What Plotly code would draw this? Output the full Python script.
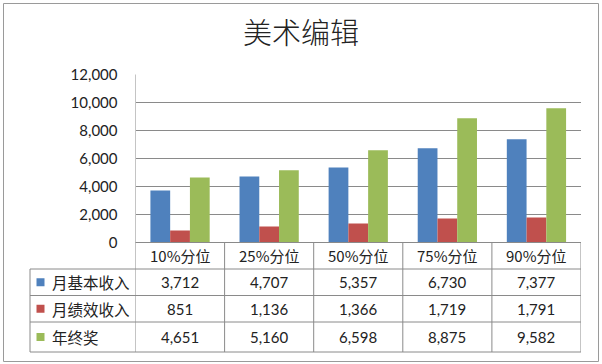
import plotly.graph_objects as go

categories = ["10%分位", "25%分位", "50%分位", "75%分位", "90%分位"]
series_names = ["月基本收入", "月绩效收入", "年终奖"]
base_income = [3712, 4707, 5357, 6730, 7377]
perf_income = [851, 1136, 1366, 1719, 1791]
year_bonus = [4651, 5160, 6598, 8875, 9582]
colors = ["#4F81BD", "#C0504D", "#9BBB59"]
y_ticks = [0, 2000, 4000, 6000, 8000, 10000, 12000]

W, H = 602, 364
series_values = [base_income, perf_income, year_bonus]

def py(px):
    return 1 - px / H

def pxx(px):
    return px / W

FONT = "Lato, 'Noto Sans CJK SC', sans-serif"
CJK = "'Noto Sans CJK SC', sans-serif"
LINE = "#8a8a8a"
TXT = "#222222"

fig = go.Figure()
xs = list(range(len(categories)))
for name, vals, c in zip(series_names, series_values, colors):
    fig.add_trace(go.Bar(x=xs, y=vals, name=name, marker=dict(color=c, line=dict(width=0)),
                         hoverinfo="y+name"))

plot_left, plot_right = 135.5, 581
plot_top, plot_bottom = 74.5, 242.5
row_edges = [242.5, 269, 295.5, 322, 352]
table_left = 30

shapes = []
for i, ry in enumerate(row_edges):
    x0 = plot_left if i == 0 else table_left
    shapes.append(dict(type="line", xref="paper", yref="paper", x0=pxx(x0), x1=pxx(plot_right),
                       y0=py(ry), y1=py(ry), line=dict(color=LINE, width=1)))
for i in range(len(categories) + 1):
    top = plot_top if i == 0 else row_edges[0]
    shapes.append(dict(type="line", xref="x", yref="paper", x0=i - 0.5, x1=i - 0.5,
                       y0=py(top), y1=py(row_edges[-1]), line=dict(color=LINE, width=1)))
shapes.append(dict(type="line", xref="paper", yref="paper", x0=pxx(table_left), x1=pxx(table_left),
                   y0=py(row_edges[1]), y1=py(row_edges[-1]), line=dict(color=LINE, width=1)))
shapes.append(dict(type="rect", xref="paper", yref="paper", x0=pxx(3.5), x1=pxx(598.5),
                   y0=py(361.5), y1=py(3.5), line=dict(color="#9a9a9a", width=1)))

annotations = []
for i, cat in enumerate(categories):
    annotations.append(dict(x=i, xref="x", y=py((row_edges[0] + row_edges[1]) / 2), yref="paper",
                            text=cat, showarrow=False, font=dict(family=CJK, size=15, color=TXT),
                            xanchor="center", yanchor="middle"))
for r, (name, vals, c) in enumerate(zip(series_names, series_values, colors)):
    yc = (row_edges[r + 1] + row_edges[r + 2]) / 2
    shapes.append(dict(type="rect", xref="paper", yref="paper", x0=pxx(36.5), x1=pxx(44.5),
                       y0=py(yc + 4), y1=py(yc - 4), fillcolor=c, line=dict(width=0)))
    annotations.append(dict(x=pxx(50), xref="paper", y=py(yc), yref="paper", text=name,
                            showarrow=False, font=dict(family=CJK, size=15.5, color=TXT),
                            xanchor="left", yanchor="middle"))
    for i, v in enumerate(vals):
        annotations.append(dict(x=i, xref="x", y=py(yc), yref="paper", text=f"{v:,}",
                                showarrow=False, font=dict(family=FONT, size=15, color=TXT),
                                xanchor="center", yanchor="middle"))

fig.update_layout(
    width=W, height=H,
    autosize=False,
    margin=dict(l=0, r=0, t=0, b=0, pad=0, autoexpand=False),
    paper_bgcolor="white", plot_bgcolor="white",
    barmode="group", bargap=0.335, bargroupgap=0,
    showlegend=False,
    title=dict(text="美术编辑", x=301 / W, xanchor="center", y=py(34), yanchor="middle",
               font=dict(family=CJK, size=29, color=TXT, weight=300)),
    xaxis=dict(domain=[pxx(plot_left), pxx(plot_right)], range=[-0.5, len(categories) - 0.5],
               showticklabels=False, showgrid=False, zeroline=False, showline=False,
               fixedrange=True, automargin=False),
    yaxis=dict(domain=[py(plot_bottom), py(plot_top)], range=[0, 12000], tickvals=y_ticks,
               tickformat=",", showgrid=True, gridcolor=LINE, gridwidth=1, zeroline=False,
               showline=False, ticks="", ticklabelstandoff=17, automargin=False,
               tickfont=dict(family=FONT, size=15, color=TXT), fixedrange=True),
    shapes=shapes, annotations=annotations,
)

fig.write_html(
    "out.html",
    config={"displayModeBar": False},
    post_script="document.body.style.margin='0';document.body.style.overflow='hidden';",
)
